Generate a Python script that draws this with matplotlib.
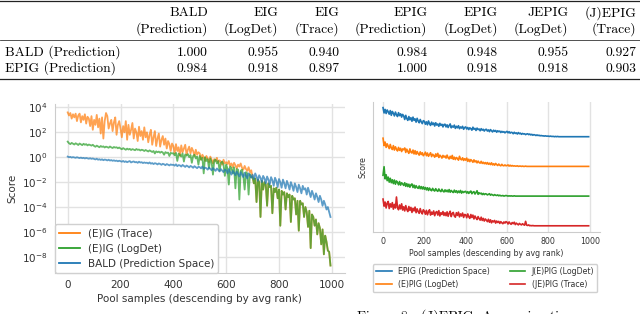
import numpy as np
import matplotlib
matplotlib.use("Agg")
import matplotlib.pyplot as plt
from matplotlib.lines import Line2D

# ---- table data ----
col_top = ["BALD", "EIG", "EIG", "EPIG", "EPIG", "JEPIG", "(J)EPIG"]
col_sub = ["(Prediction)", "(LogDet)", "(Trace)", "(Prediction)", "(LogDet)", "(LogDet)", "(Trace)"]
row_names = ["BALD (Prediction)", "EPIG (Prediction)"]
corr_bald = [1.000, 0.955, 0.940, 0.984, 0.948, 0.955, 0.927]
corr_epig = [0.984, 0.918, 0.897, 1.000, 0.918, 0.918, 0.903]

# ---- left plot: log10(score), one value every 5 pool samples ----
pool_step = 5
trace_log_head = [
    3.6, 3.35, 3.55, 3.1, 3.45, 3.2, 3.5, 2.9, 3.35, 3.5, 2.8, 3.3, 3.0, 3.45, 2.7, 3.25, 3.1, 2.5, 3.3, 2.2,
    3.0, 2.6, 3.4, 2.4, 3.1, 1.9, 3.2, 1.5, 2.9, 3.55, 3.3, 2.3, 2.7, 3.0, 2.1, 2.8, 3.2, 1.8, 2.6, 2.9,
    2.3, 1.6, 2.5, 2.0, 2.9, 1.4, 2.6, 1.8, 2.2, 2.75, 1.5, 2.3, 2.0, 1.3, 2.45, 1.7, 2.1, 1.4, 2.4, 1.6,
    2.0, 1.2, 1.8, 2.2, 1.0, 1.6, 2.1, 0.9, 1.5, 1.9, 0.85, 1.4, 1.7, 1.0, 1.5, 0.7, 1.3, 1.05, 0.5, 1.1,
    0.9, 0.3, 1.05, 0.5, 0.8, 0.1, 0.95, 0.4, 0.7, 1.0, 0.2, 0.6, 0.85, 0.3, 0.75, 0.5, 0.1, 0.6, 0.2, 0.4,
    0.3, -0.2, 0.2, 0.0, -0.3, 0.1, -0.1, -0.4, 0.05, -0.2, -0.5, -0.15, -0.3, -0.05, -0.45, -0.25, -0.35, -0.6, -0.2, -0.5,
    -0.4, -0.55, -0.3, -0.7, -0.5, -0.8, -0.45, -0.65, -0.9, -0.6, -0.75, -0.5, -0.85, -1.0, -0.7, -0.95, -1.1, -0.8, -1.2, -1.05,
]
logdet_log = [
    1.25, 1.12, 1.05, 1.15, 1.08, 1.02, 1.12, 1.06, 0.98, 1.1, 1.03, 0.97, 1.08, 1.0, 1.05, 0.95, 1.02, 0.98, 0.93, 1.0,
    0.9, 0.84, 0.93, 0.86, 0.8, 0.9, 0.83, 0.87, 0.78, 0.85, 0.81, 0.76, 0.86, 0.79, 0.74, 0.82, 0.77, 0.8, 0.72, 0.78,
    0.7, 0.64, 0.73, 0.66, 0.6, 0.69, 0.62, 0.67, 0.58, 0.65, 0.61, 0.56, 0.66, 0.59, 0.62, 0.54, 0.6, 0.57, 0.5, 0.58,
    0.52, 0.46, 0.55, 0.48, 0.42, 0.5, 0.3, 0.47, 0.4, 0.45, 0.36, 0.44, 0.38, 0.2, 0.41, 0.34, 0.37, 0.1, 0.35, 0.3,
    0.32, 0.15, 0.35, -0.3, 0.28, 0.2, 0.05, 0.3, -0.35, 0.22, 0.12, 0.25, 0.0, 0.18, -0.45, 0.1, 0.2, -0.1, 0.05, -0.6,
    0.1, -0.2, -0.05, -1.3, 0.0, -0.3, -0.15, -0.9, -0.1, -0.4, -1.4, -0.25, -0.2, -0.5, -0.3, -1.1, -0.45, -0.35, -0.6, -1.5,
    -0.6, -0.9, -2.2, -0.75, -0.85, -1.3, -0.8, -2.5, -0.95, -1.0, -3.4, -1.1, -1.0, -1.5, -2.6, -1.2, -1.3, -3.0, -1.35, -1.6,
    -1.6, -2.1, -1.7, -3.6, -1.8, -2.0, -4.8, -1.9, -2.6, -2.0, -2.2, -3.9, -2.1, -2.4, -2.3, -4.5, -2.5, -2.8, -2.45, -3.3,
    -2.6, -5.5, -2.7, -3.0, -2.8, -4.2, -2.9, -3.2, -3.0, -5.2, -3.1, -3.4, -3.3, -4.6, -3.5, -5.9, -3.5, -3.8, -3.7, -4.8,
    -4.0, -4.4, -5.6, -4.3, -7.3, -4.6, -4.8, -5.5, -5.0, -6.2, -5.3, -5.7, -7.0, -5.8, -7.8, -6.3, -6.8, -7.5, -7.6, -8.7,
]
bald_log = [
    0.05, 0.0, 0.03, -0.03, 0.01, -0.02, -0.05, 0.0, -0.04, -0.07, -0.03, -0.08, -0.05, -0.1, -0.06, -0.09, -0.12, -0.08, -0.13, -0.1,
    -0.14, -0.18, -0.12, -0.2, -0.16, -0.22, -0.17, -0.24, -0.19, -0.21, -0.26, -0.2, -0.27, -0.23, -0.29, -0.25, -0.3, -0.27, -0.33, -0.28,
    -0.32, -0.36, -0.3, -0.38, -0.33, -0.4, -0.35, -0.31, -0.42, -0.37, -0.34, -0.41, -0.38, -0.45, -0.36, -0.43, -0.4, -0.47, -0.42, -0.46,
    -0.44, -0.5, -0.42, -0.52, -0.47, -0.55, -0.48, -0.51, -0.58, -0.5, -0.54, -0.61, -0.53, -0.57, -0.64, -0.55, -0.6, -0.66, -0.58, -0.62,
    -0.6, -0.68, -0.57, -0.72, -0.63, -0.66, -0.75, -0.62, -0.7, -0.78, -0.67, -0.73, -0.82, -0.7, -0.76, -0.85, -0.72, -0.8, -0.88, -0.77,
    -0.8, -0.9, -0.74, -0.95, -0.84, -0.88, -1.0, -0.82, -0.93, -1.05, -0.87, -0.98, -1.1, -0.9, -1.02, -1.15, -0.95, -1.08, -1.2, -1.0,
    -1.05, -1.3, -0.95, -1.2, -1.4, -1.1, -1.25, -1.45, -1.15, -1.35, -1.55, -1.2, -1.4, -1.6, -1.25, -1.5, -1.7, -1.3, -1.45, -1.65,
    -1.4, -1.75, -1.3, -1.55, -1.9, -1.45, -1.65, -2.0, -1.5, -1.7, -2.1, -1.55, -1.8, -2.2, -1.6, -1.85, -2.3, -1.65, -1.9, -2.4,
    -1.75, -2.0, -2.45, -1.8, -2.1, -2.5, -1.9, -2.2, -2.6, -2.0, -2.3, -2.7, -2.1, -2.4, -2.8, -2.2, -2.5, -2.9, -2.3, -2.6,
    -2.5, -3.0, -2.45, -2.8, -3.2, -2.7, -3.0, -3.4, -2.9, -3.2, -3.6, -3.1, -3.4, -3.9, -3.5, -3.8, -4.2, -4.0, -4.4, -4.8,
]
# past sample 700 the trace curve lies exactly under the logdet curve
trace_log = trace_log_head + logdet_log[len(trace_log_head):]

# ---- right plot: score above each curve's floor, in hundredths ----
epig_pred = [
    98, 80, 92, 78, 90, 84, 76, 88, 72, 85, 79, 70, 83, 74, 68, 81, 71, 77, 66, 75,
    70, 58, 72, 61, 55, 68, 57, 64, 52, 66, 55, 60, 49, 62, 53, 47, 58, 50, 44, 54,
    52, 42, 50, 40, 53, 44, 38, 49, 41, 46, 36, 47, 39, 43, 35, 45, 38, 42, 33, 41,
    42, 33, 40, 31, 38, 43, 30, 36, 32, 39, 28, 35, 30, 37, 27, 33, 29, 35, 25, 31,
    33, 26, 31, 24, 30, 27, 22, 32, 25, 28, 21, 29, 24, 26, 20, 27, 22, 25, 19, 24,
    25, 19, 23, 17, 24, 20, 16, 22, 18, 21, 15, 20, 17, 19, 14, 18, 15, 17, 13, 16,
    18, 13, 17, 12, 15, 14, 10, 15, 11, 13, 9, 14, 10, 12, 8, 11, 9, 10, 7, 9,
    10, 7, 9, 6, 8, 5, 7, 6, 4, 6, 4, 5, 3, 4, 3, 3, 2, 3, 2, 2,
    2, 1, 2, 1, 1, 1, 0, 1, 0, 1, 0, 0, 0, 0, 0, 0, 0, 0, 0, 0,
    0, 0, 0, 0, 0, 0, 0, 0, 0, 0, 0, 0, 0, 0, 0, 0, 0, 0, 0, 0,
]
epig_logdet = [
    95, 70, 82, 64, 76, 68, 60, 74, 62, 57, 70, 55, 66, 58, 52, 64, 54, 61, 50, 59,
    56, 62, 47, 58, 50, 44, 59, 48, 45, 55, 42, 53, 41, 50, 43, 38, 49, 40, 46, 36,
    41, 48, 36, 45, 34, 40, 46, 33, 41, 37, 31, 42, 34, 44, 30, 38, 34, 28, 37, 31,
    35, 28, 38, 29, 25, 34, 27, 37, 24, 31, 23, 30, 27, 21, 34, 25, 22, 29, 20, 26,
    21, 28, 17, 24, 16, 23, 19, 14, 22, 15, 19, 12, 18, 13, 11, 17, 10, 14, 9, 13,
    8, 13, 7, 11, 6, 12, 5, 9, 4, 10, 6, 3, 8, 4, 2, 7, 3, 2, 5, 2,
    3, 5, 1, 4, 1, 3, 1, 2, 1, 1, 2, 0, 1, 1, 0, 1, 0, 0, 1, 0,
    0, 0, 0, 0, 0, 0, 0, 0, 0, 0, 0, 0, 0, 0, 0, 0, 0, 0, 0, 0,
    0, 0, 0, 0, 0, 0, 0, 0, 0, 0, 0, 0, 0, 0, 0, 0, 0, 0, 0, 0,
    0, 0, 0, 0, 0, 0, 0, 0, 0, 0, 0, 0, 0, 0, 0, 0, 0, 0, 0, 0,
]
jepig_logdet = [
    70, 99, 58, 72, 52, 64, 47, 60, 45, 55, 42, 54, 40, 51, 46, 38, 49, 37, 45, 41,
    36, 45, 33, 42, 32, 40, 30, 38, 41, 29, 37, 27, 35, 29, 26, 34, 25, 32, 24, 31,
    23, 29, 21, 28, 19, 27, 21, 18, 26, 20, 17, 25, 19, 16, 24, 18, 15, 23, 17, 14,
    21, 15, 20, 14, 22, 13, 19, 15, 12, 20, 13, 18, 11, 17, 12, 19, 10, 16, 12, 15,
    16, 10, 15, 9, 14, 17, 8, 13, 15, 7, 12, 18, 6, 11, 8, 10, 5, 9, 5, 8,
    7, 4, 6, 8, 3, 6, 4, 2, 5, 3, 2, 4, 1, 3, 1, 1, 2, 0, 1, 2,
    1, 0, 1, 0, 1, 0, 0, 1, 0, 0, 0, 0, 0, 0, 0, 0, 0, 0, 0, 0,
    0, 0, 0, 0, 0, 0, 0, 0, 0, 0, 0, 0, 0, 0, 0, 0, 0, 0, 0, 0,
    0, 0, 0, 0, 0, 0, 0, 0, 0, 0, 0, 0, 0, 0, 0, 0, 0, 0, 0, 0,
    0, 0, 0, 0, 0, 0, 0, 0, 0, 0, 0, 0, 0, 0, 0, 0, 0, 0, 0, 0,
]
jepig_trace = [
    90, 66, 80, 60, 76, 82, 58, 74, 63, 78, 56, 72, 60, 97, 61, 54, 70, 57, 74, 53,
    64, 50, 68, 55, 48, 65, 52, 62, 45, 59, 50, 63, 44, 57, 48, 42, 58, 46, 40, 54,
    49, 39, 52, 37, 47, 54, 36, 46, 39, 50, 34, 45, 48, 36, 51, 33, 44, 38, 48, 35,
    44, 34, 47, 32, 42, 49, 31, 41, 45, 33, 29, 44, 35, 46, 30, 40, 33, 43, 28, 38,
    37, 27, 40, 30, 25, 38, 28, 36, 23, 33, 26, 21, 31, 24, 19, 29, 18, 25, 16, 23,
    19, 14, 22, 12, 20, 10, 17, 13, 18, 9, 16, 11, 15, 8, 14, 10, 7, 13, 9, 14,
    12, 6, 13, 8, 5, 11, 7, 12, 4, 9, 6, 3, 8, 5, 3, 7, 4, 2, 15, 2,
    1, 3, 0, 1, 0, 1, 0, 0, 0, 0, 0, 0, 0, 0, 0, 0, 0, 0, 0, 0,
    0, 0, 0, 0, 0, 0, 0, 0, 0, 0, 0, 0, 0, 0, 0, 0, 0, 0, 0, 0,
    0, 0, 0, 0, 0, 0, 0, 0, 0, 0, 0, 0, 0, 0, 0, 0, 0, 0, 0, 0,
]
right_series = [
    ("EPIG (Prediction Space)", epig_pred, 3),
    ("(E)PIG (LogDet)", epig_logdet, 2),
    ("J(E)PIG (LogDet)", jepig_logdet, 1),
    ("(JE)PIG (Trace)", jepig_trace, 0),
]

W, H = 640, 314
fig = plt.figure(figsize=(W / 100, H / 100), dpi=100)
fig.patch.set_facecolor("white")


def fx(px):
    return px / W


def fy(py):
    return 1 - py / H


# ---- table (booktabs-like) ----
serif = "cmr10"
tsize = 9.8
col_right = [208, 278.5, 339.5, 427.5, 498, 568.5, 636]
for xr, a, b in zip(col_right, col_top, col_sub):
    fig.text(fx(xr), fy(16.5), a, ha="right", va="baseline", family=serif, fontsize=tsize)
    fig.text(fx(xr), fy(32.8), b, ha="right", va="baseline", family=serif, fontsize=tsize)
for yy, name, vals in [(55.6, row_names[0], corr_bald), (71.9, row_names[1], corr_epig)]:
    fig.text(fx(5), fy(yy), name, ha="left", va="baseline", family=serif, fontsize=tsize)
    for xr, v in zip(col_right, vals):
        fig.text(fx(xr), fy(yy), f"{v:.3f}", ha="right", va="baseline", family=serif, fontsize=tsize)
for yy, lw in [(1.2, 0.9), (40.3, 0.55), (79.0, 0.9)]:
    fig.add_artist(Line2D([0, 1], [fy(yy), fy(yy)], color="#222222", lw=lw))

grid_c = "#e2e2e2"
spine_c = "#cccccc"
tick_c = "#333333"

# ---- left plot ----
x = np.arange(0, 1000, pool_step)
ax1 = fig.add_axes([fx(54.5), fy(273), fx(345) - fx(54.5), fy(104.3) - fy(273)])
ax1.plot(x, 10 ** np.array(trace_log), color="tab:orange", lw=1.3, alpha=0.72, label="(E)IG (Trace)")
ax1.plot(x, 10 ** np.array(logdet_log), color="tab:green", lw=1.3, alpha=0.72, label="(E)IG (LogDet)")
ax1.plot(x, 10 ** np.array(bald_log), color="tab:blue", lw=1.3, alpha=0.72, label="BALD (Prediction Space)")
ax1.set_yscale("log")
ax1.set_xlim(-50, 1050)
ax1.set_ylim(10 ** -9.3, 10 ** 4.25)
ax1.set_yticks([10.0 ** k for k in range(-8, 5, 2)])
ax1.minorticks_off()
ax1.set_xticks([0, 200, 400, 600, 800, 1000])
ax1.grid(True, color=grid_c, lw=1.0)
ax1.set_axisbelow(True)
for s in ["top", "right"]:
    ax1.spines[s].set_visible(False)
for s in ["left", "bottom"]:
    ax1.spines[s].set_color(spine_c)
ax1.tick_params(length=0, pad=5, labelsize=7.5, colors=tick_c)
ax1.set_xlabel("Pool samples (descending by avg rank)", fontsize=7.5, color=tick_c, labelpad=3)
ax1.set_ylabel("Score", fontsize=7.5, color=tick_c, labelpad=3)
leg1 = ax1.legend(loc="lower left", bbox_to_anchor=(0, 0), borderaxespad=0, fontsize=7.5,
                  frameon=True, edgecolor="#d0d0d0", framealpha=1, fancybox=True)
for h in leg1.legend_handles:
    h.set_alpha(1)
for t in leg1.get_texts():
    t.set_color(tick_c)

# ---- right plot ----
ax2 = fig.add_axes([fx(372.7), fy(231.7), fx(600) - fx(372.7), fy(101.7) - fy(231.7)])
for label, vals, offset in right_series:
    ax2.plot(x, np.array(vals) / 100 + offset, lw=1.2, label=label)
ax2.set_xlim(-50, 1050)
ax2.set_yticks([])
ax2.set_xticks([0, 200, 400, 600, 800, 1000])
ax2.grid(True, axis="x", color=grid_c, lw=1.0)
ax2.set_axisbelow(True)
for s in ["top", "right"]:
    ax2.spines[s].set_visible(False)
for s in ["left", "bottom"]:
    ax2.spines[s].set_color(spine_c)
ax2.tick_params(length=0, pad=4, labelsize=5.7, colors=tick_c)
ax2.set_xlabel("Pool samples (descending by avg rank)", fontsize=5.7, color=tick_c, labelpad=2)
ax2.set_ylabel("Score", fontsize=5.7, color=tick_c, labelpad=4)
leg2 = ax2.legend(loc="upper left", bbox_to_anchor=(fx(372.7), fy(264)), bbox_transform=fig.transFigure,
                  ncol=2, borderaxespad=0, fontsize=5.7, frameon=True, edgecolor="#d0d0d0",
                  framealpha=1, columnspacing=2.5)
for t in leg2.get_texts():
    t.set_color(tick_c)

# caption, cut off by the page crop
fig.text(fx(357), fy(320), "Figure 8:  (J)EPIG: Approximati", ha="left", va="baseline",
         family=serif, fontsize=10)

fig.savefig("out.png", dpi=100)
